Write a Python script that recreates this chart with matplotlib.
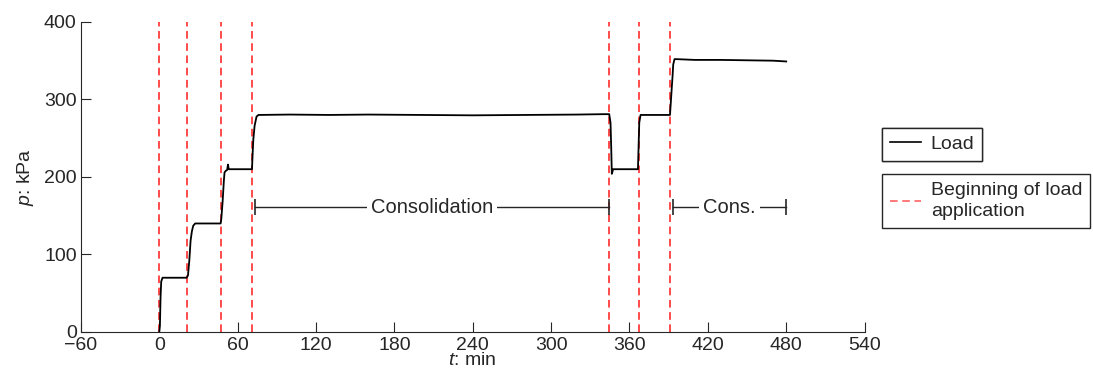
import matplotlib.pyplot as plt
from matplotlib.lines import Line2D

plt.rcParams['font.family'] = ['Liberation Sans', 'DejaVu Sans']
plt.rcParams['mathtext.fontset'] = 'custom'
plt.rcParams['mathtext.it'] = 'Liberation Sans:italic'
plt.rcParams['mathtext.rm'] = 'Liberation Sans'
plt.rcParams['font.size'] = 14

# load record
t = [0, 0.5, 1, 1.5, 2.5, 10, 21, 22, 23, 24, 25, 26, 27.5, 35, 47, 47.5, 48.5, 49.5, 50, 51, 52, 52.6, 53.2, 55, 62,
     71, 71.5, 72, 73, 74.5, 76, 100, 130, 160, 200, 240, 280, 320, 340, 344.5, 345.5, 346, 346.5, 347.5, 355, 366.5,
     367.5, 368.5, 380, 391, 391.5, 392.5, 393, 393.5, 394.5, 396, 410, 430, 450, 470, 480]
p = [0, 8, 45, 65, 70, 70, 70, 73, 92, 118, 130, 137, 140, 140, 140, 146, 168, 196, 206, 208, 209, 216, 210, 210, 210,
     210, 230, 248, 266, 278, 280, 280.5, 280, 280.5, 280, 279.5, 280, 280.5, 281, 281, 270, 240, 204, 210, 210, 210,
     270, 280, 280, 280, 292, 318, 330, 345, 352, 352, 351, 351, 350.5, 350, 349]

# beginning of each load application
t_load = [0, 21, 47, 71, 344, 367, 391]

# consolidation periods
cons_spans = [(73.5, 344), (393, 480)]
cons_labels = ['Consolidation', 'Cons.']
cons_y = 161

fig = plt.figure(figsize=(10.93, 3.78), dpi=100)
ax = fig.add_axes([0.074, 0.1217, 0.717, 0.8203])

dark = '#262626'

for tl in t_load:
    ax.axvline(tl, color='#ff1a1a', linestyle=(0, (5, 3)), linewidth=1.1)

ax.plot(t, p, color='black', linewidth=1.3)

for (a, b), lab in zip(cons_spans, cons_labels):
    ax.plot([a, b], [cons_y, cons_y], color=dark, linewidth=1, marker='|', markersize=11, markeredgewidth=1.2)
    ax.text((a + b) / 2, cons_y, lab, ha='center', va='center', color=dark, fontsize=14.5,
            bbox=dict(facecolor='white', edgecolor='none', pad=3))

ax.set_xlim(-60, 540)
ax.set_ylim(0, 400)
ax.set_xticks(range(-60, 541, 60))
ax.set_xticklabels(['\u2212' + '60'] + [str(v) for v in range(0, 541, 60)])
ax.set_yticks(range(0, 401, 100))
ax.spines['top'].set_visible(False)
ax.spines['right'].set_visible(False)
for s in ['left', 'bottom']:
    ax.spines[s].set_color(dark)
ax.tick_params(direction='in', length=7, color=dark, labelcolor=dark, labelsize=14, pad=3)
ax.tick_params(axis='x', pad=3.5)
ax.set_xlabel('$t$: min', color=dark, fontsize=14, labelpad=-1)
ax.set_ylabel('$p$: kPa', color=dark, fontsize=14, labelpad=6)

h1 = [Line2D([], [], color='black', linewidth=1.2)]
h2 = [Line2D([], [], color='#ff5555', linestyle=(0, (5, 3)), linewidth=1.1)]
leg1 = fig.legend(h1, ['Load'], loc='upper left', bbox_to_anchor=(0.807, 0.662), fancybox=False,
                  edgecolor=dark, framealpha=1, handlelength=1.6, handletextpad=0.5, borderpad=0.4,
                  borderaxespad=0, fontsize=14)
leg2 = fig.legend(h2, ['Beginning of load\napplication'], loc='upper left', bbox_to_anchor=(0.807, 0.539),
                  fancybox=False, edgecolor=dark, framealpha=1, handlelength=1.6, handletextpad=0.5,
                  borderpad=0.4, borderaxespad=0, fontsize=14)
for lg in (leg1, leg2):
    lg.get_frame().set_linewidth(1)
    for txt in lg.get_texts():
        txt.set_color(dark)
leg2.get_texts()[0].set_linespacing(1.3)
fig.add_artist(leg1)

fig.savefig('out.png', dpi=100)
